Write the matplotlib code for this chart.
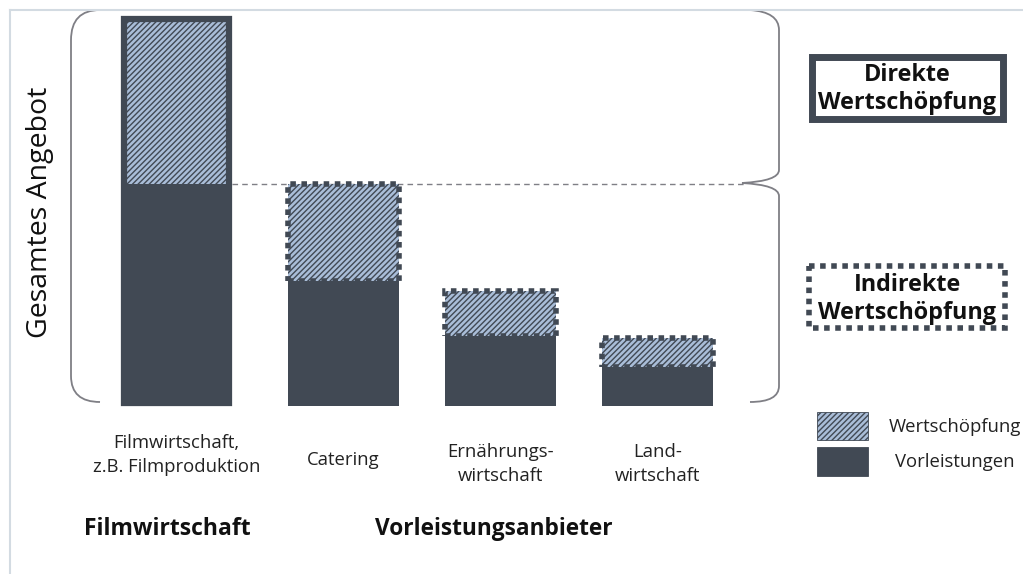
import matplotlib.pyplot as plt
from matplotlib.patches import Rectangle, PathPatch
from matplotlib.path import Path
import numpy as np

# data (Anteile am gesamten Angebot der Filmwirtschaft = 100)
kategorien = ['Filmwirtschaft,\nz.B. Filmproduktion', 'Catering',
              'Ernährungs-\nwirtschaft', 'Land-\nwirtschaft']
vorleistungen = [57, 32, 18, 10]
wertschoepfung = [43, 25, 11.5, 7.5]
gruppen = ['Filmwirtschaft', 'Vorleistungsanbieter']

DARK = '#414954'
LIGHT = '#a9bdd8'
GREY = '#7f7f85'
FRAME = '#d3dbe2'

plt.rcParams['font.family'] = ['Open Sans', 'DejaVu Sans']
plt.rcParams['hatch.linewidth'] = 1.0
plt.rcParams['hatch.color'] = DARK

W, H = 1023, 574
fig = plt.figure(figsize=(W / 100, H / 100), dpi=100)

# main axes: y=0 at pixel 406, y=100 at pixel 16
ax = fig.add_axes([100 / W, (H - 406) / H, 660 / W, 390 / H])
ax.set_xlim(-0.551, 3.653)
ax.set_ylim(0, 100)
ax.axis('off')
ax.patch.set_alpha(0)

xpos = np.arange(len(kategorien), dtype=float)
xpos[0] -= 0.064
bw = 0.707
total = np.array(vorleistungen) + np.array(wertschoepfung)
HATCH = '//////'

ax.bar(xpos, vorleistungen, width=bw, color=DARK, linewidth=0, zorder=2)
ax.bar(xpos, wertschoepfung, bottom=vorleistungen, width=bw, color=LIGHT,
       edgecolor=DARK, hatch=HATCH, linewidth=0, zorder=2)

# direct value added: solid frame around the whole bar (kept inside the bar)
ax.bar(xpos[0], total[0] - 1.6, width=bw - 0.04, bottom=0.8, fill=False,
       edgecolor=DARK, linewidth=4.5, zorder=3, clip_on=False)
# indirect value added: dotted frame around the hatched part
ax.bar(xpos[1:], wertschoepfung[1:], bottom=vorleistungen[1:], width=bw,
       fill=False, edgecolor=DARK, linewidth=4, linestyle=(0, (1, 1)),
       zorder=3, clip_on=False)

# dashed reference line at the level of the first bar's inputs
ax.plot([xpos[0] + bw / 2, 3.557], [vorleistungen[0]] * 2, color=GREY,
        linewidth=1, linestyle=(0, (4, 3)), zorder=1, clip_on=False)

# overlay in pixel coordinates for annotations
ov = fig.add_axes([0, 0, 1, 1])
ov.set_xlim(0, W)
ov.set_ylim(H, 0)
ov.axis('off')
ov.patch.set_alpha(0)

# thin frame top/left
ov.plot([10, W], [9.5, 9.5], color=FRAME, linewidth=1.5)
ov.plot([10, 10], [9.5, H], color=FRAME, linewidth=1.5)

C3 = Path.CURVE3
left = Path([(100, 10), (71, 10), (71, 40), (71, 376), (71, 402), (100, 402)],
            [Path.MOVETO, C3, C3, Path.LINETO, C3, C3])
ov.add_patch(PathPatch(left, fill=False, edgecolor=GREY, linewidth=1.3))
right = Path([(750, 10), (779, 12), (779, 30), (779, 170), (779, 181), (742, 183),
              (779, 185), (779, 196), (779, 386), (779, 402), (750, 402)],
             [Path.MOVETO, C3, C3, Path.LINETO, C3, C3, C3, C3,
              Path.LINETO, C3, C3])
ov.add_patch(PathPatch(right, fill=False, edgecolor=GREY, linewidth=1.3))

ov.text(40, 212, 'Gesamtes Angebot', rotation=90, ha='center', va='center',
        fontsize=20.5, color='#111111')

# category labels under the bars
label_y = [455, 460, 464, 464]
for x, lab, ly in zip(xpos, kategorien, label_y):
    px = 100 + (x + 0.551) / 4.204 * 660
    ov.text(px, ly, lab, ha='center', va='center',
            fontsize=13.3, color='#222222', linespacing=1.45)

ov.text(167, 529, gruppen[0], ha='center', va='center', fontsize=16.5,
        fontweight='bold', color='#111111')
ov.text(494, 529, gruppen[1], ha='center', va='center', fontsize=16.3,
        fontweight='bold', color='#111111')

# boxes on the right
ov.add_patch(Rectangle((811.5, 56.5), 191, 62, fill=False, edgecolor=DARK,
                       linewidth=5))
ov.text(907, 89, 'Direkte\nWertschöpfung', ha='center', va='center',
        fontsize=16.8, fontweight='bold', color='#111111', linespacing=1.2)
ov.add_patch(Rectangle((809, 266), 196, 62, fill=False, edgecolor=DARK,
                       linewidth=4, linestyle=(0, (1, 1))))
ov.text(907, 299, 'Indirekte\nWertschöpfung', ha='center', va='center',
        fontsize=16.8, fontweight='bold', color='#111111', linespacing=1.2)

# legend
ov.add_patch(Rectangle((817, 412), 51, 28, facecolor=LIGHT, edgecolor=DARK,
                       hatch=HATCH, linewidth=0.6))
ov.add_patch(Rectangle((817, 447), 51, 29, facecolor=DARK, edgecolor=DARK,
                       linewidth=0.6))
ov.text(955, 427, 'Wertschöpfung', ha='center', va='center', fontsize=13.3,
        color='#222222')
ov.text(955, 462, 'Vorleistungen', ha='center', va='center', fontsize=13.3,
        color='#222222')

fig.savefig('out.png', dpi=100)
